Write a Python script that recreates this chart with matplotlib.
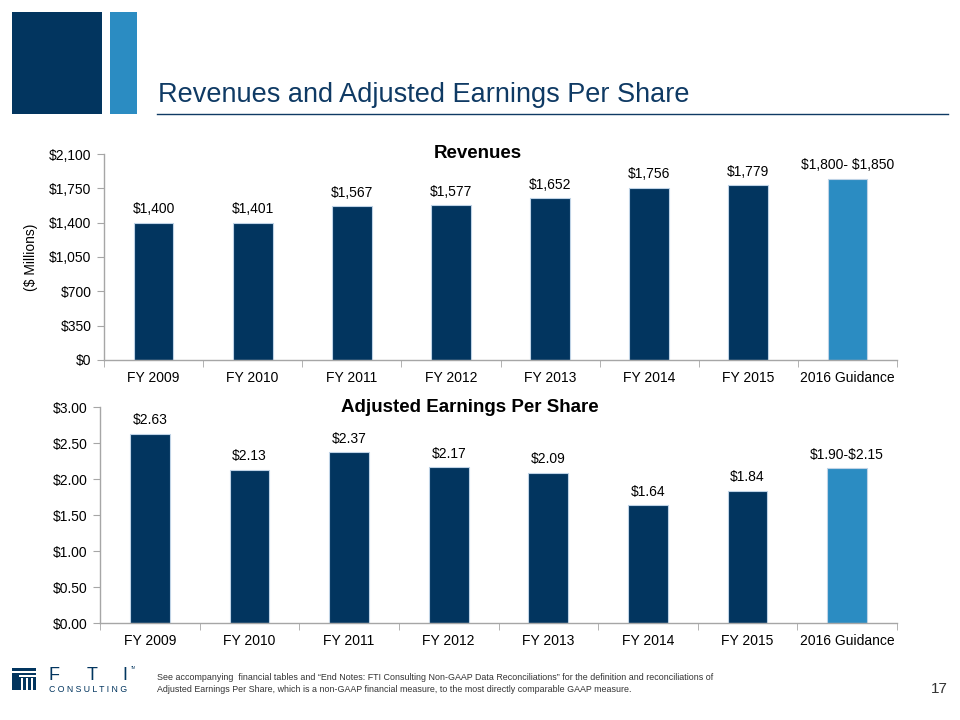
import matplotlib
matplotlib.use("Agg")
import matplotlib.pyplot as plt
from matplotlib.patches import Rectangle
from matplotlib.lines import Line2D

plt.rcParams['font.family'] = ['Liberation Sans', 'DejaVu Sans']
plt.rcParams['text.parse_math'] = False

categories = ["FY 2009", "FY 2010", "FY 2011", "FY 2012", "FY 2013", "FY 2014", "FY 2015", "2016 Guidance"]
revenues = [1400, 1401, 1567, 1577, 1652, 1756, 1779, 1850]
revenue_labels = ["$1,400", "$1,401", "$1,567", "$1,577", "$1,652", "$1,756", "$1,779", "$1,800- $1,850"]
eps = [2.63, 2.13, 2.37, 2.17, 2.09, 1.64, 1.84, 2.15]
eps_labels = ["$2.63", "$2.13", "$2.37", "$2.17", "$2.09", "$1.64", "$1.84", "$1.90-$2.15"]
rev_ticks = [0, 350, 700, 1050, 1400, 1750, 2100]
rev_tick_labels = ["$0", "$350", "$700", "$1,050", "$1,400", "$1,750", "$2,100"]
eps_ticks = [0, 0.5, 1.0, 1.5, 2.0, 2.5, 3.0]
eps_tick_labels = ["$0.00", "$0.50", "$1.00", "$1.50", "$2.00", "$2.50", "$3.00"]

DARK = "#02355F"
LIGHT = "#2B8CC2"
TITLE_C = "#0F3A64"
SPINE = "#A6A6A6"
colors = [DARK] * 7 + [LIGHT]

W, H = 960, 720
fig = plt.figure(figsize=(9.6, 7.2), dpi=100)


def px_axes(x0, y0, x1, y1):
    return fig.add_axes([x0 / W, 1 - y1 / H, (x1 - x0) / W, (y1 - y0) / H])


def px_rect(x0, y0, w, h, color):
    fig.patches.append(Rectangle((x0 / W, 1 - (y0 + h) / H), w / W, h / H, transform=fig.transFigure,
                                 facecolor=color, edgecolor='none'))


def style_axes(ax, ticks, ticklabels, ymax):
    x = list(range(len(categories)))
    ax.set_xlim(-0.5, len(categories) - 0.5)
    ax.set_ylim(0, ymax)
    ax.set_yticks(ticks)
    ax.set_yticklabels(ticklabels, fontsize=10)
    ax.set_xticks(x)
    ax.set_xticklabels(categories, fontsize=10)
    ax.set_xticks([i - 0.5 for i in range(len(categories) + 1)], minor=True)
    ax.tick_params(axis='x', which='major', length=0, pad=8)
    ax.tick_params(axis='x', which='minor', length=5, color=SPINE, direction='out')
    ax.tick_params(axis='y', length=5, color=SPINE, direction='out', pad=4)
    for s in ('top', 'right'):
        ax.spines[s].set_visible(False)
    for s in ('left', 'bottom'):
        ax.spines[s].set_color(SPINE)
        ax.spines[s].set_linewidth(1)
    ax.patch.set_alpha(0)


# Logo squares
px_rect(12, 12, 90, 102, DARK)
px_rect(110, 12, 27, 102, LIGHT)

# Title
fig.text(158 / W, 1 - 95 / H, "Revenues and Adjusted Earnings Per Share", fontsize=19.5,
         color=TITLE_C, va='center', ha='left')
fig.add_artist(Line2D([157 / W, 948 / W], [1 - 114 / H, 1 - 114 / H], transform=fig.transFigure,
                      color=TITLE_C, linewidth=1))

x = list(range(len(categories)))

# Revenues chart
ax1 = px_axes(104, 154, 897, 360)
ax1.bar(x, revenues, width=0.4, color=colors, edgecolor="#BFD3E6", linewidth=0.8, zorder=2)
for i, (v, lab) in enumerate(zip(revenues, revenue_labels)):
    ax1.annotate(lab, (i, v), xytext=(0, 4.5), textcoords='offset points',
                 ha='center', va='bottom', fontsize=10, color='black')
style_axes(ax1, rev_ticks, rev_tick_labels, 2100)
ax1.text((478 - 104) / 793, 1.0, "Revenues", transform=ax1.transAxes, fontsize=13.5,
         fontweight='bold', ha='center', va='center')
ax1.set_ylabel("($ Millions)", fontsize=10, labelpad=8)

# EPS chart
ax2 = px_axes(100, 407, 897, 623)
ax2.bar(x, eps, width=0.4, color=colors, edgecolor="#BFD3E6", linewidth=0.8, zorder=2)
for i, (v, lab) in enumerate(zip(eps, eps_labels)):
    ax2.annotate(lab, (i, v), xytext=(0, 4.5), textcoords='offset points',
                 ha='center', va='bottom', fontsize=10, color='black')
style_axes(ax2, eps_ticks, eps_tick_labels, 3.0)
ax2.text((470 - 100) / 797, 1.0, "Adjusted Earnings Per Share", transform=ax2.transAxes,
         fontsize=13.5, fontweight='bold', ha='center', va='center')

# FTI logo (bottom-left): block icon with columns
px_rect(12, 668, 24, 22, DARK)
px_rect(12, 671, 24, 1.5, 'white')
px_rect(19, 675, 17, 1.5, 'white')
for k in range(3):
    px_rect(21 + k * 5, 678, 2, 12, 'white')
for xx, ch in zip([49, 87, 122], ["F", "T", "I"]):
    fig.text(xx / W, 1 - 675 / H, ch, fontsize=13, color=DARK, va='center', ha='left')
fig.text(131 / W, 1 - 668 / H, "TM", fontsize=2.5, color=DARK, va='center', ha='left')
fig.text(49 / W, 1 - 690 / H, "C O N S U L T I N G", fontsize=6.3, color=DARK, va='center', ha='left')

# Footnote
foot_fam = ['Liberation Sans Narrow', 'Liberation Sans', 'DejaVu Sans']
fig.text(157 / W, 1 - 677 / H,
         "See accompanying  financial tables and \u201cEnd Notes: FTI Consulting Non-GAAP Data Reconciliations\u201d for the definition and reconciliations of",
         fontsize=6.4, color='#333333', va='center', ha='left', family=foot_fam)
fig.text(157 / W, 1 - 690 / H,
         "Adjusted Earnings Per Share, which is a non-GAAP financial measure, to the most directly comparable GAAP measure.",
         fontsize=6.4, color='#333333', va='center', ha='left', family=foot_fam)
fig.text(948 / W, 1 - 689 / H, "17", fontsize=11, color='#333333', va='center', ha='right')

fig.savefig("out.png", dpi=100)
